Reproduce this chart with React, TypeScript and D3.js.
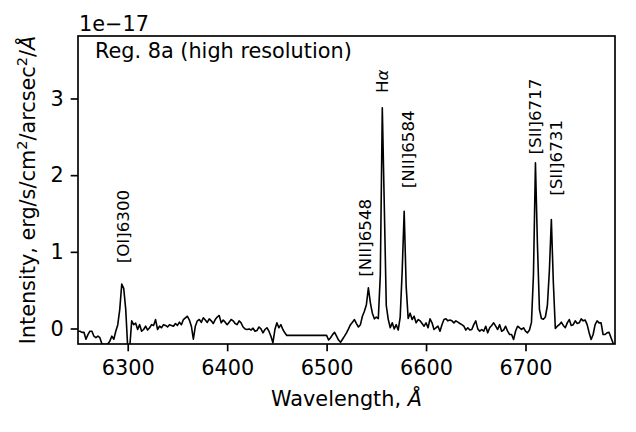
import React, { useEffect, useRef } from "react";
import * as d3 from "d3";

// spectrum, sampled every 2 A; the part between 6460 and 6500 A is masked
const segmentAStart = 6250;
const segmentBStart = 6500;
const sampleStep = 2;

const fluxA = [
  -0.035, -0.035, -0.05, -0.05, -0.14, -0.08, -0.035, -0.035, -0.1, -0.12,
  -0.1, -0.12, -0.2, -0.21, -0.21, -0.2, -0.165, -0.1, -0.14, -0.035,
  0.05, 0.25, 0.58, 0.52, 0.25, -0.25, -0.25, 0.1, 0.05, 0.07,
  -0.013, 0.05, -0.035, -0.013, 0.03, -0.02, 0.01, 0.05, 0.04, 0.117,
  -0.013, 0.03, 0.01, 0.05, 0.04, 0.02, 0.05, 0.04, 0.03, 0.065,
  0.04, 0.083, 0.05, 0.117, 0.14, 0.16, 0.11, 0.03, -0.14, 0.03,
  0.1, 0.117, 0.08, 0.14, 0.11, 0.08, 0.126, 0.1, 0.065, 0.117,
  0.15, 0.17, 0.074, 0.11, 0.083, 0.05, 0.083, 0.117, 0.1, 0.065,
  0.05, 0.1, 0.074, 0.02, -0.005, -0.013, -0.005, -0.02, 0.004, -0.035,
  -0.026, 0.02, -0.005, -0.056, -0.013, 0.01, -0.035, -0.1, -0.187, -0.013,
  0.074, 0.01, 0.05, -0.013, -0.056, -0.09,
];

const fluxB = [
  -0.09, -0.15, -0.12, -0.08, -0.05, -0.1, -0.15, -0.18, -0.14, -0.1,
  -0.056, -0.005, 0.05, 0.083, 0.117, 0.065, 0.02, 0.05, 0.16, 0.226,
  0.31, 0.53, 0.335, 0.2, 0.126, 0.15, 0.13, 0.7, 2.88, 1.6,
  0.3, 0.117, 0.01, 0.074, -0.005, 0.05, -0.02, 0.15, 0.75, 1.53,
  0.55, 0.13, 0.2, 0.117, 0.16, 0.074, 0.117, 0.1, 0.065, 0.03,
  0.074, 0.01, 0.126, 0.074, -0.013, 0.01, 0.03, -0.035, 0.05, 0.117,
  0.126, 0.1, 0.11, 0.1, 0.074, 0.1, 0.083, 0.065, 0.05, 0.03,
  -0.02, 0.01, -0.02, -0.013, 0.05, 0.1, -0.005, -0.035, -0.013, -0.035,
  0.03, -0.056, 0.01, 0.04, 0.074, 0.03, -0.013, 0.05, -0.035, -0.02,
  0.03, -0.035, -0.078, -0.078, -0.143, -0.035, 0.03, 0.01, -0.013, 0.01,
  -0.035, -0.056, -0.02, 0.08, 0.7, 2.16, 1.1, 0.25, 0.13, 0.12,
  0.15, 0.3, 0.75, 1.42, 0.6, 0.0, 0.03, 0.05, 0.083, 0.04,
  0.01, 0.074, 0.117, 0.04, 0.05, 0.1, 0.065, 0.074, 0.126, 0.1,
  0.11, 0.05, -0.056, -0.143, -0.078, 0.05, 0.1, 0.074, 0.074, -0.078,
  -0.078, -0.056, -0.05, -0.12, -0.187, -0.23,
];

const xTicks = [6300, 6400, 6500, 6600, 6700];
const yTicks = [0, 1, 2, 3];

// emission line labels
const lineNames = ["[OI]6300", "[NII]6548", "H", "[NII]6584", "[SII]6717", "[SII]6731"];
const lineWaves = [6295.6, 6538.5, 6556, 6582.3, 6709.7, 6731.3];
const lineLevels = [0.85, 0.676, 3.07, 1.83, 2.27, 1.73];

const width = 636;
const height = 432;
const plot = { left: 78, right: 615, top: 36, bottom: 344 };
const font = "DejaVu Sans";
const fs = 20.8; // 10pt at 150 dpi

export default function App() {
  const svgRef = useRef<SVGSVGElement>(null);

  useEffect(() => {
    if (!svgRef.current) return;
    const svg = d3.select(svgRef.current);
    svg.selectAll("*").remove();

    const x = d3.scaleLinear().domain([6250, 6790]).range([plot.left, plot.right]);
    const y = d3.scaleLinear().domain([-0.202, 3.815]).range([plot.bottom, plot.top]);

    const points: [number, number][] = [];
    fluxA.forEach((f, i) => points.push([segmentAStart + i * sampleStep, f]));
    fluxB.forEach((f, i) => points.push([segmentBStart + i * sampleStep, f]));

    svg
      .append("clipPath")
      .attr("id", "plot-clip")
      .append("rect")
      .attr("x", plot.left)
      .attr("y", plot.top)
      .attr("width", plot.right - plot.left)
      .attr("height", plot.bottom - plot.top);

    const line = d3
      .line<[number, number]>()
      .x((d) => x(d[0]))
      .y((d) => y(d[1]));

    svg
      .append("path")
      .datum(points)
      .attr("d", line)
      .attr("fill", "none")
      .attr("stroke", "black")
      .attr("stroke-width", 1.6)
      .attr("stroke-linejoin", "round")
      .attr("clip-path", "url(#plot-clip)");

    // x axis
    const xAxis = svg
      .append("g")
      .attr("transform", `translate(0,${plot.bottom})`)
      .call(d3.axisBottom(x).tickValues(xTicks).tickSize(7.3).tickPadding(8.9).tickFormat(d3.format("d")));
    xAxis.select(".domain").remove();
    xAxis.selectAll("line").attr("stroke-width", 1.67);
    xAxis.selectAll("text").attr("font-family", font).attr("font-size", fs).attr("fill", "black");

    // y axis
    const yAxis = svg
      .append("g")
      .attr("transform", `translate(${plot.left},0)`)
      .call(d3.axisLeft(y).tickValues(yTicks).tickSize(7.3).tickPadding(7).tickFormat(d3.format("d")));
    yAxis.select(".domain").remove();
    yAxis.selectAll("line").attr("stroke-width", 1.67);
    yAxis.selectAll("text").attr("font-family", font).attr("font-size", fs).attr("fill", "black");

    // frame
    svg
      .append("rect")
      .attr("x", plot.left)
      .attr("y", plot.top)
      .attr("width", plot.right - plot.left)
      .attr("height", plot.bottom - plot.top)
      .attr("fill", "none")
      .attr("stroke", "black")
      .attr("stroke-width", 1.67);

    // line labels
    lineNames.forEach((name, i) => {
      const t = svg
        .append("text")
        .attr("transform", `translate(${x(lineWaves[i])},${y(lineLevels[i])}) rotate(-90)`)
        .attr("dy", "0.35em")
        .attr("font-family", font)
        .attr("font-size", 16.7)
        .text(name);
      if (name === "H") t.append("tspan").attr("font-style", "italic").text("\u03b1");
    });

    // offset text and region label
    svg
      .append("text")
      .attr("x", 79)
      .attr("y", 30.5)
      .attr("font-family", font)
      .attr("font-size", fs)
      .text("1e\u221217");

    svg
      .append("text")
      .attr("x", 95)
      .attr("y", 57.5)
      .attr("font-family", font)
      .attr("font-size", fs)
      .text("Reg. 8a (high resolution)");

    // axis labels
    const xl = svg
      .append("text")
      .attr("x", (plot.left + plot.right) / 2)
      .attr("y", 406)
      .attr("text-anchor", "middle")
      .attr("font-family", font)
      .attr("font-size", fs)
      .text("Wavelength, ");
    xl.append("tspan").attr("font-style", "italic").text("\u00c5");

    const yl = svg
      .append("text")
      .attr("transform", `translate(35,${(plot.top + plot.bottom) / 2}) rotate(-90)`)
      .attr("text-anchor", "middle")
      .attr("font-family", font)
      .attr("font-size", fs);
    yl.append("tspan").text("Intensity, erg/s/cm");
    yl.append("tspan").attr("font-size", 14.6).attr("dy", -8.3).text("2");
    yl.append("tspan").attr("dy", 8.3).text("/arcsec");
    yl.append("tspan").attr("font-size", 14.6).attr("dy", -8.3).text("2");
    yl.append("tspan").attr("dy", 8.3).text("/");
    yl.append("tspan").attr("font-style", "italic").text("\u00c5");
  }, []);

  return (
    <div style={{ position: "absolute", left: 0, top: 0, width, height, background: "white" }}>
      <svg ref={svgRef} width={width} height={height}></svg>
    </div>
  );
}
